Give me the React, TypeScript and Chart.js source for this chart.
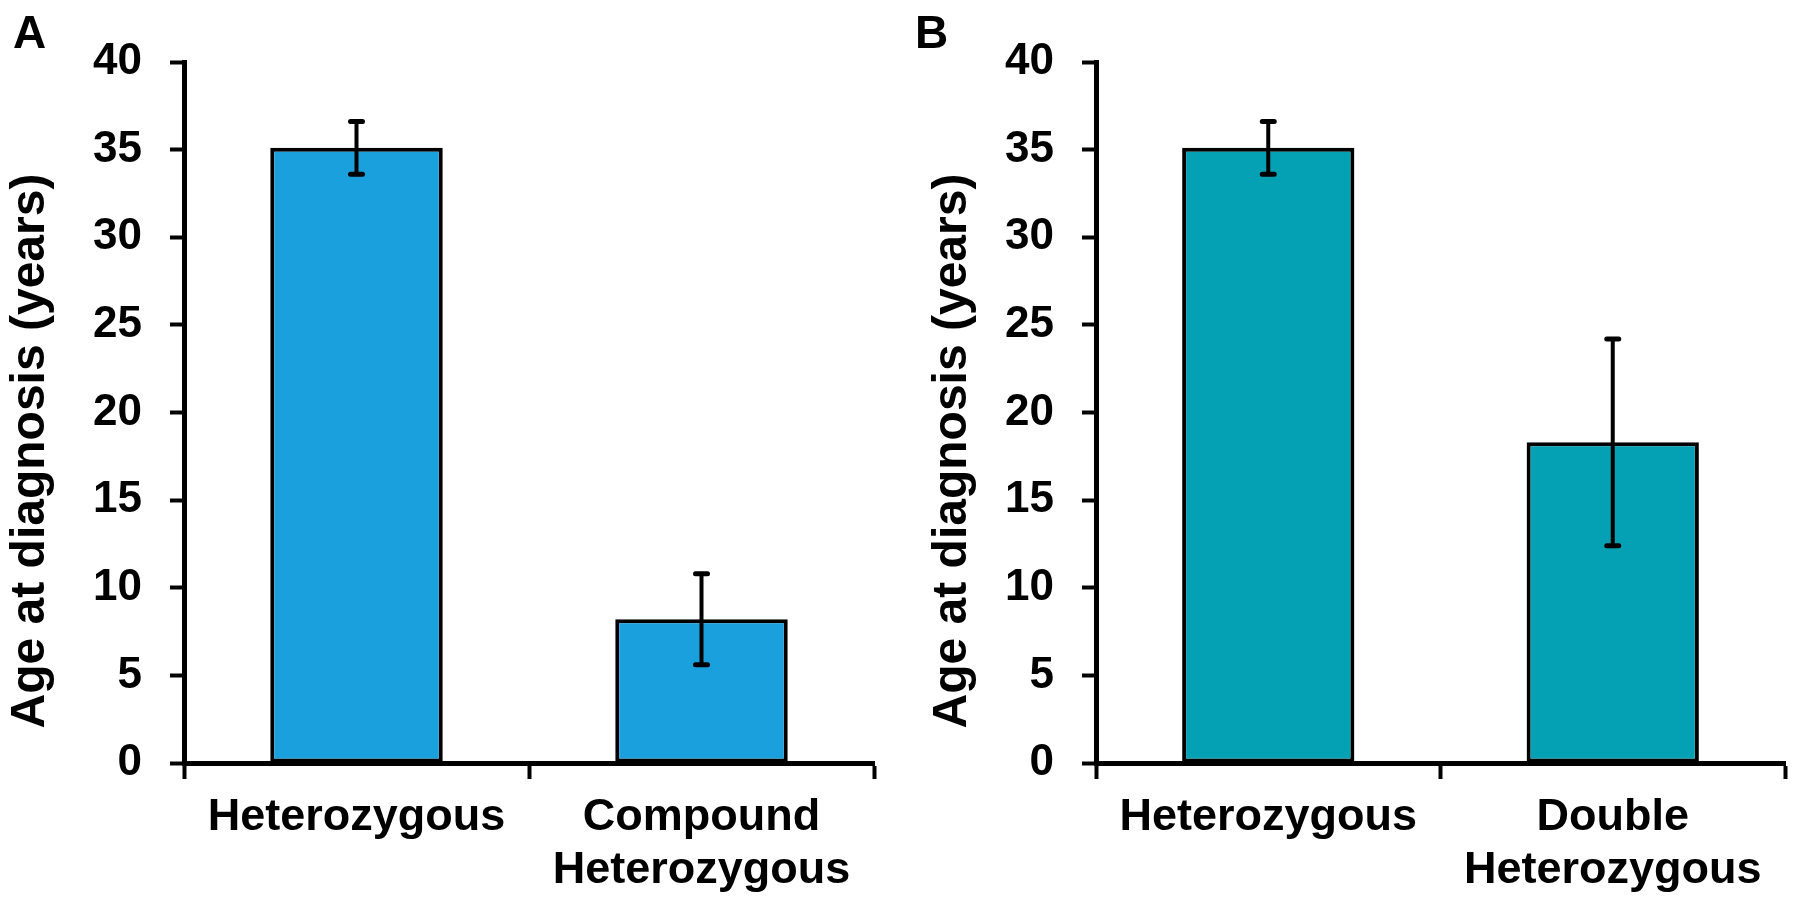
import React, { useEffect, useRef } from "react";
import { Chart, registerables } from "chart.js";

Chart.register(...registerables);

// ---- Data ----
const categoriesA: string[][] = [["Heterozygous"], ["Compound", "Heterozygous"]];
const meansA: number[] = [35.1, 8.2];
const errorsA: number[] = [1.5, 2.6];

const categoriesB: string[][] = [["Heterozygous"], ["Double", "Heterozygous"]];
const meansB: number[] = [35.1, 18.3];
const errorsB: number[] = [1.5, 5.9];

const yMin = 0;
const yMax = 40;
const yStep = 5;
const yTitle = "Age at diagnosis (years)";
const panelLetters = ["A", "B"];

const FONT = '"Liberation Sans", Arial, Helvetica, sans-serif';

type PanelCfg = {
  labels: string[][];
  means: number[];
  errors: number[];
  color: string;
  letter: string;
  letterX: number;
  titleX: number;
  titleY: number;
  yWidth: number;
  padRight: number;
};

function makeChart(canvas: HTMLCanvasElement, p: PanelCfg) {
  const overlay = {
    id: "overlay" + p.letter,
    afterDatasetsDraw(chart: any) {
      const ctx = chart.ctx as CanvasRenderingContext2D;
      const meta = chart.getDatasetMeta(0);
      const ys = chart.scales.y;
      ctx.save();
      ctx.strokeStyle = "#000";
      ctx.lineCap = "round";
      meta.data.forEach((el: any, i: number) => {
        const v = p.means[i];
        const e = p.errors[i];
        const x = el.x;
        const yt = ys.getPixelForValue(v + e);
        const yb = ys.getPixelForValue(v - e);
        ctx.lineWidth = 4;
        ctx.beginPath();
        ctx.moveTo(x, yt);
        ctx.lineTo(x, yb);
        ctx.stroke();
        ctx.lineWidth = 5;
        ctx.beginPath();
        ctx.moveTo(x - 6, yt);
        ctx.lineTo(x + 6, yt);
        ctx.moveTo(x - 6, yb);
        ctx.lineTo(x + 6, yb);
        ctx.stroke();
      });
      ctx.restore();
    },
    afterDraw(chart: any) {
      const ctx = chart.ctx as CanvasRenderingContext2D;
      ctx.save();
      ctx.fillStyle = "#000";
      ctx.font = `bold 46px ${FONT}`;
      ctx.textAlign = "left";
      ctx.textBaseline = "alphabetic";
      ctx.fillText(p.letter, p.letterX, 48);
      ctx.font = `bold 48px ${FONT}`;
      ctx.translate(p.titleX, p.titleY);
      ctx.rotate(-Math.PI / 2);
      ctx.textAlign = "center";
      ctx.textBaseline = "middle";
      ctx.fillText(yTitle, 0, 0);
      ctx.restore();
    },
  };

  return new Chart(canvas, {
    type: "bar",
    data: {
      labels: p.labels,
      datasets: [
        {
          data: p.means,
          backgroundColor: p.color,
          borderColor: "#000",
          borderWidth: 4,
          borderSkipped: false,
          barPercentage: 0.5,
          categoryPercentage: 1.0,
        },
      ],
    },
    options: {
      responsive: false,
      animation: false,
      devicePixelRatio: 1,
      layout: { padding: { top: 62, right: p.padRight, left: 0, bottom: 0 } },
      plugins: {
        legend: { display: false },
        tooltip: { enabled: false },
        title: { display: false },
      },
      scales: {
        x: {
          offset: true,
          grid: {
            offset: true,
            drawOnChartArea: false,
            drawTicks: true,
            tickLength: 16,
            tickWidth: 4,
            tickColor: "#000",
          },
          border: { display: true, color: "#000", width: 5 },
          ticks: {
            color: "#000",
            padding: 12,
            maxRotation: 0,
            autoSkip: false,
            font: { family: FONT, size: 45, weight: "bold", lineHeight: 1.18 },
          },
          afterFit(scale: any) {
            scale.height = 144;
          },
        },
        y: {
          min: yMin,
          max: yMax,
          grid: {
            drawOnChartArea: false,
            drawTicks: true,
            tickLength: 14,
            tickWidth: 4,
            tickColor: "#000",
          },
          border: { display: true, color: "#000", width: 5 },
          ticks: {
            stepSize: yStep,
            color: "#000",
            padding: 28,
            font: { family: FONT, size: 44, weight: "bold" },
          },
          afterFit(scale: any) {
            scale.width = p.yWidth;
          },
        },
      },
    },
    plugins: [overlay],
  } as any);
}

export default function App() {
  const refA = useRef<HTMLCanvasElement>(null);
  const refB = useRef<HTMLCanvasElement>(null);

  useEffect(() => {
    const a = makeChart(refA.current!, {
      labels: categoriesA,
      means: meansA,
      errors: errorsA,
      color: "#1AA0DC",
      letter: panelLetters[0],
      letterX: 13,
      titleX: 31,
      titleY: 451,
      yWidth: 184,
      padRight: 26,
    });
    const b = makeChart(refB.current!, {
      labels: categoriesB,
      means: meansB,
      errors: errorsB,
      color: "#03A1B3",
      letter: panelLetters[1],
      letterX: 15,
      titleX: 53,
      titleY: 451,
      yWidth: 196,
      padRight: 15,
    });
    return () => {
      a.destroy();
      b.destroy();
    };
  }, []);

  return (
    <div
      style={{
        position: "absolute",
        left: 0,
        top: 0,
        width: 1800,
        height: 907,
        background: "#fff",
        overflow: "hidden",
      }}
    >
      <canvas
        ref={refA}
        width={900}
        height={907}
        style={{ position: "absolute", left: 0, top: 0, width: 900, height: 907 }}
      />
      <canvas
        ref={refB}
        width={900}
        height={907}
        style={{ position: "absolute", left: 900, top: 0, width: 900, height: 907 }}
      />
    </div>
  );
}
